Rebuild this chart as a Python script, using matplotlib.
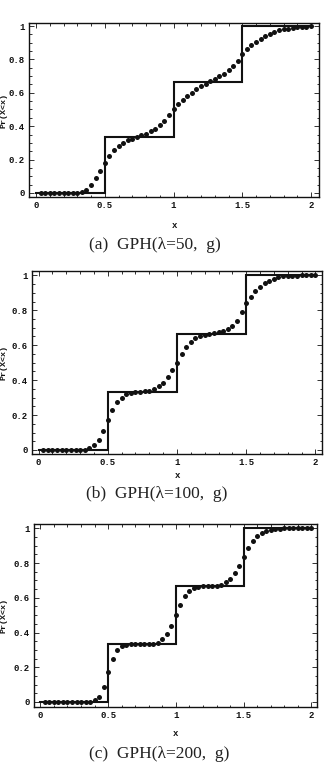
import numpy as np
import matplotlib.pyplot as plt
from matplotlib.ticker import MultipleLocator

# sample points of the GPH approximation (step 1/30)
x_pts = np.arange(1, 61) / 30.0

cdf_lam50 = [0, 0, 0, 0, 0, 0, 0, 0, 0, 0.005,
             0.02, 0.05, 0.09, 0.13, 0.18, 0.22, 0.255, 0.28, 0.30, 0.315,
             0.325, 0.335, 0.345, 0.355, 0.37, 0.385, 0.41, 0.43, 0.47, 0.50,
             0.53, 0.555, 0.58, 0.60, 0.62, 0.64, 0.655, 0.67, 0.685, 0.70,
             0.715, 0.735, 0.76, 0.79, 0.83, 0.86, 0.885, 0.905, 0.925, 0.94,
             0.955, 0.965, 0.975, 0.98, 0.985, 0.99, 0.993, 0.995, 0.997, 0.998]

cdf_lam100 = [0, 0, 0, 0, 0, 0, 0, 0, 0, 0,
              0.01, 0.03, 0.06, 0.11, 0.17, 0.23, 0.275, 0.30, 0.32, 0.325,
              0.33, 0.333, 0.335, 0.34, 0.35, 0.365, 0.385, 0.42, 0.46, 0.50,
              0.55, 0.59, 0.62, 0.64, 0.65, 0.66, 0.665, 0.67, 0.675, 0.68,
              0.69, 0.71, 0.74, 0.79, 0.84, 0.875, 0.91, 0.935, 0.955, 0.97,
              0.98, 0.99, 0.995, 0.997, 0.998, 0.999, 1.0, 1.0, 1.0, 1.0]

cdf_lam200 = [0, 0, 0, 0, 0, 0, 0, 0, 0, 0,
              0, 0.01, 0.03, 0.085, 0.17, 0.25, 0.30, 0.32, 0.33, 0.333,
              0.333, 0.333, 0.333, 0.333, 0.333, 0.34, 0.36, 0.39, 0.44, 0.50,
              0.56, 0.61, 0.64, 0.655, 0.663, 0.667, 0.667, 0.667, 0.667, 0.675,
              0.69, 0.71, 0.74, 0.785, 0.835, 0.885, 0.925, 0.955, 0.975, 0.985,
              0.993, 0.997, 0.999, 1.0, 1.0, 1.0, 1.0, 1.0, 1.0, 1.0]

# deterministic target CDF
step_x = [0, 0.5, 0.5, 1.0, 1.0, 1.5, 1.5, 2.0]
step_y = [0, 0, 1/3, 1/3, 2/3, 2/3, 1, 1]

captions = ["(a)  GPH(\u03bb=50,  g)", "(b)  GPH(\u03bb=100,  g)", "(c)  GPH(\u03bb=200,  g)"]
series = [cdf_lam50, cdf_lam100, cdf_lam200]

W, H = 325, 769
fig = plt.figure(figsize=(W / 100, H / 100), dpi=100)

# pixel boxes (left, top, right, bottom) and axis limits per panel
boxes = [(29, 23, 319, 197), (32, 271, 322, 454), (34, 524, 317, 707)]
xlims = [(-0.051, 2.058), (-0.048, 2.048), (-0.047, 2.041)]
ylims = [(-0.024, 1.018), (-0.023, 1.025), (-0.029, 1.025)]
xlab_y = [226, 476, 734]
cap_y = [245, 494, 754]
cap_x = [155, 157, 159]

mono = "Liberation Mono"
ink = "#111111"

for i in range(3):
    l, t, r, b = boxes[i]
    ax = fig.add_axes([l / W, 1 - b / H, (r - l) / W, (b - t) / H])
    ax.plot(step_x, step_y, color=ink, lw=1.5, solid_joinstyle="miter")
    ax.plot(x_pts, series[i], "o", color=ink, ms=3.6, mec="none")
    ax.set_xlim(*xlims[i])
    ax.set_ylim(*ylims[i])
    ax.xaxis.set_major_locator(MultipleLocator(0.5))
    ax.xaxis.set_minor_locator(MultipleLocator(0.1))
    ax.yaxis.set_major_locator(MultipleLocator(0.2))
    ax.yaxis.set_minor_locator(MultipleLocator(0.05))
    ax.set_xticks([0, 0.5, 1, 1.5, 2])
    ax.set_xticklabels(["0", "0.5", "1", "1.5", "2"])
    ax.set_yticks([0, 0.2, 0.4, 0.6, 0.8, 1])
    ax.set_yticklabels(["0", "0.2", "0.4", "0.6", "0.8", "1"])
    ax.tick_params(which="both", direction="in", top=True, right=True,
                   color=ink, width=0.6)
    ax.tick_params(which="major", length=3.5, pad=3)
    ax.tick_params(which="minor", length=1.8)
    for lab in ax.get_xticklabels() + ax.get_yticklabels():
        lab.set_fontfamily(mono)
        lab.set_fontsize(6.5)
        lab.set_fontweight("bold")
        lab.set_color(ink)
    for sp in ax.spines.values():
        sp.set_linewidth(1.0)
        sp.set_color(ink)
    cy = (t + b) / 2
    fig.text(4 / W, 1 - cy / H, "Pr(X<x)", rotation=90, ha="center", va="center",
             fontfamily=mono, fontsize=6, fontweight="bold", color=ink)
    fig.text(((l + r) / 2) / W, 1 - xlab_y[i] / H, "x", ha="center", va="center",
             fontfamily=mono, fontsize=6.5, fontweight="bold", color=ink)
    fig.text(cap_x[i] / W, 1 - cap_y[i] / H, captions[i], ha="center", va="center",
             fontfamily="Liberation Serif", fontsize=12.5, color="#222222")

fig.savefig("out.png", dpi=100)
